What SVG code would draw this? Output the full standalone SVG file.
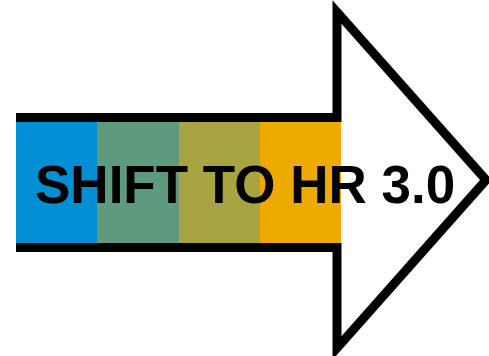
<svg xmlns="http://www.w3.org/2000/svg" width="489" height="356" viewBox="0 0 489 356">
<style>
.band{stroke:none}
.outline{fill:none;stroke:#000;stroke-width:9;stroke-linejoin:miter;stroke-miterlimit:10}
.label{font-family:"Liberation Sans",Arial,sans-serif;font-weight:bold;font-size:53px;fill:#000}
</style>
<rect width="489" height="356" fill="#fff"/>
<g id="arrow">
<polygon points="337,12 486,180 337,348" fill="#fff"/>
<rect class="band" x="16" y="122" width="81" height="121" fill="#008FD3"/>
<rect class="band" x="97" y="122" width="82" height="121" fill="#5E9A7D"/>
<rect class="band" x="179" y="122" width="81" height="121" fill="#A8A441"/>
<rect class="band" x="260" y="122" width="81" height="121" fill="#EFAA00"/>
<polyline class="outline" points="16,117.5 337,117.5 337,12 486,180 337,348 337,247.5 16,247.5"/>
</g>
<g id="label-node">
<text class="label" x="35" y="203">SHIFT TO HR 3.0</text>
</g>
</svg>
